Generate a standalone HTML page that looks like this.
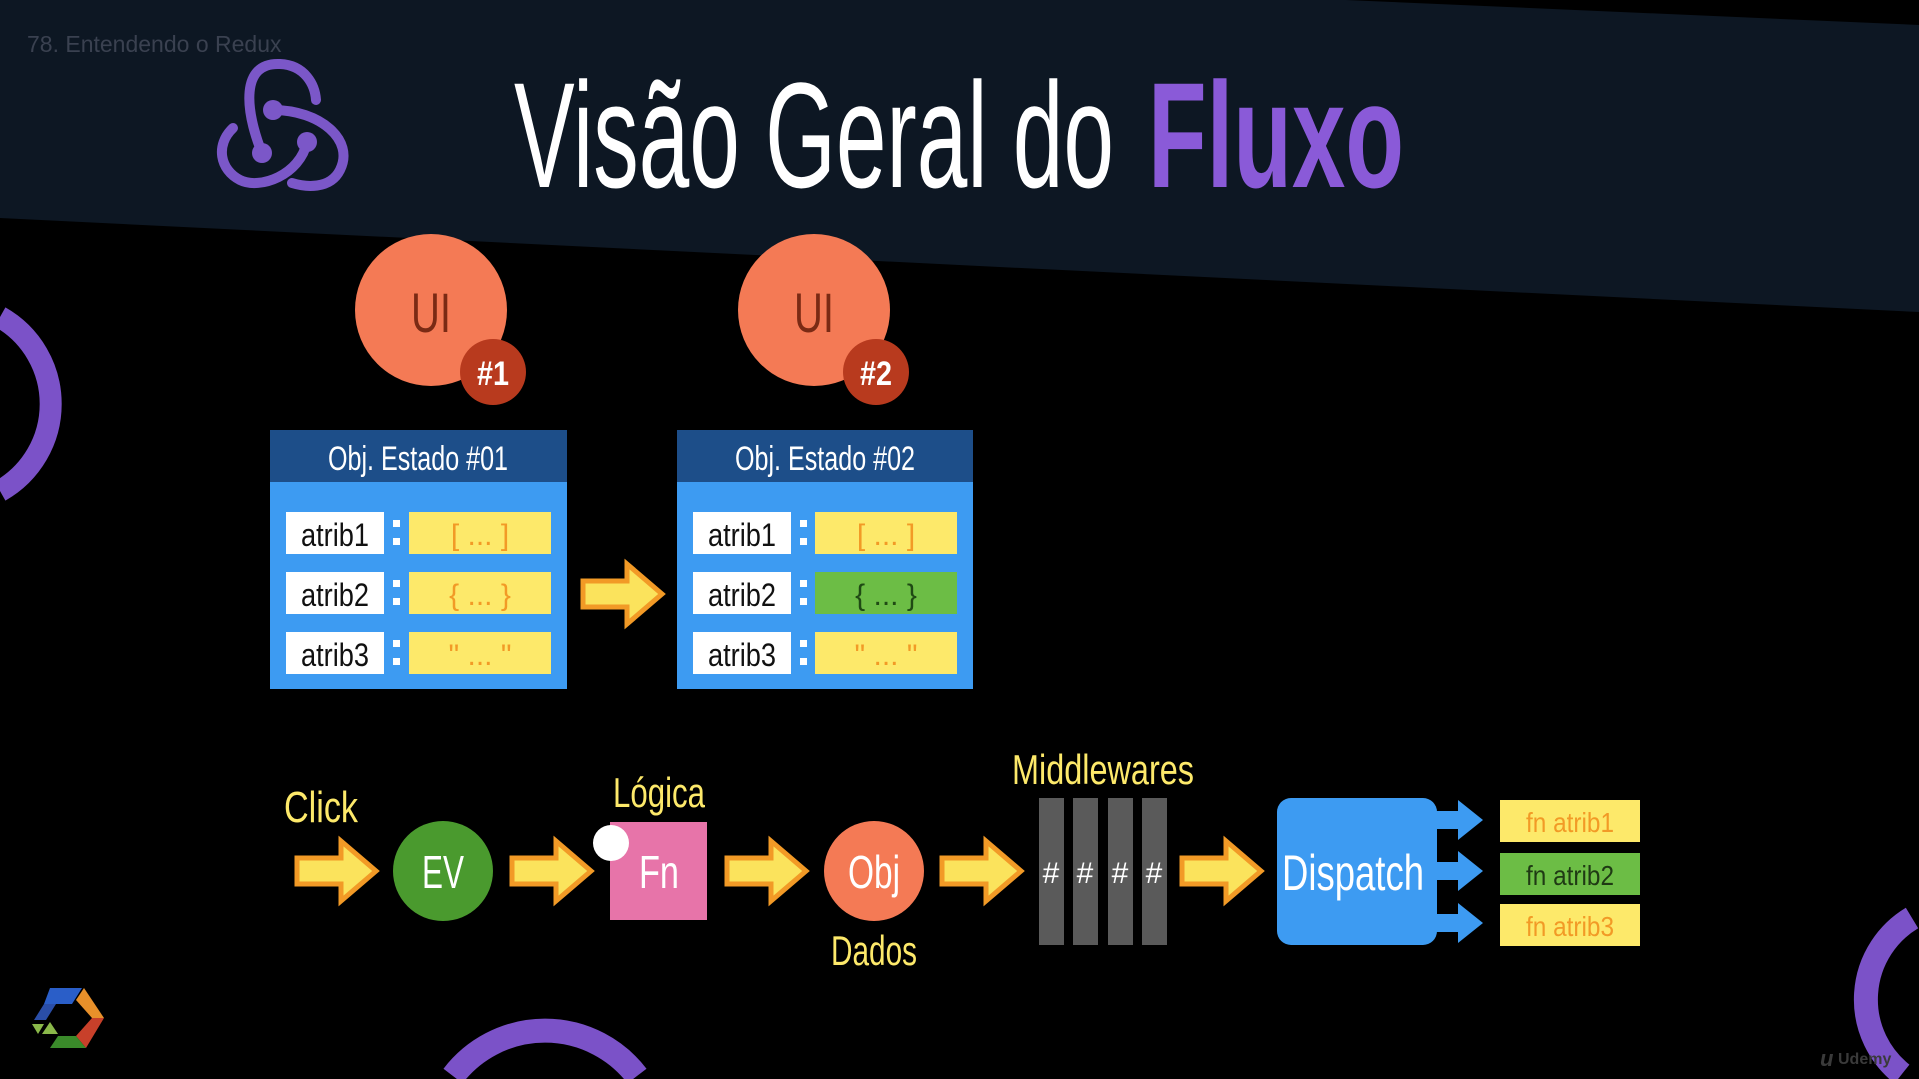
<!DOCTYPE html>
<html><head><meta charset="utf-8"><style>
html,body{margin:0;padding:0;background:#000;width:1919px;height:1079px;overflow:hidden;}
svg{display:block;overflow:hidden;}
text{font-family:"Liberation Sans",sans-serif;}
</style></head><body>
<svg width="1919" height="1079" viewBox="0 0 1919 1079" xmlns="http://www.w3.org/2000/svg">
<defs>
<g id="arr">
<polygon points="0,-13 44,-13 44,-30 79,0 44,30 44,13 0,13" fill="#fbe35c" stroke="#f29a26" stroke-width="5" stroke-linejoin="miter"/>
</g>
<g id="sarr">
<polygon points="0,-9 26,-9 26,-20 51,0 26,20 26,9 0,9" fill="#3d9bf2"/>
</g>
</defs>
<rect width="1919" height="1079" fill="#000"/>
<polygon points="0,0 1346,0 1919,25 1919,312 0,218" fill="#0d1723"/>
<path d="M0,317 A100,100 0 0 1 0,491" fill="none" stroke="#7b52c8" stroke-width="22"/>
<path d="M453,1076 A116,116 0 0 1 637,1076" fill="none" stroke="#7b52c8" stroke-width="24"/>
<path d="M1912,918 A95,95 0 0 0 1902,1074" fill="none" stroke="#7b52c8" stroke-width="24"/>
<text x="27" y="52" font-size="23" fill="#3a4150">78. Entendendo o Redux</text>
<g fill="none" stroke="#7b57c8" stroke-width="10" stroke-linecap="round">
<path d="M262,153 C245,110 240,62 280,64 C305,65 315,85 316,100"/>
<path d="M273,110 C320,110 355,140 340,170 C330,190 305,187 292,183"/>
<path d="M307,142 C300,175 260,190 240,180 C220,170 215,145 233,128"/>
</g>
<g fill="#7b57c8"><circle cx="273" cy="110" r="10"/><circle cx="262" cy="153" r="10"/><circle cx="307" cy="142" r="10"/></g>
<text x="514" y="187" font-size="150" fill="#ffffff" textLength="600" lengthAdjust="spacingAndGlyphs">Visão Geral do</text>
<text x="1148" y="187" font-size="150" font-weight="bold" fill="#8a5ad8" textLength="256" lengthAdjust="spacingAndGlyphs">Fluxo</text>
<circle cx="431" cy="310" r="76" fill="#f47a55"/>
<text x="431" y="332" font-size="56" fill="#7a2a14" text-anchor="middle" textLength="40" lengthAdjust="spacingAndGlyphs">UI</text>
<circle cx="493" cy="372" r="33" fill="#b83a1e"/>
<text x="493" y="385" font-size="34" font-weight="bold" fill="#fff" text-anchor="middle" textLength="32" lengthAdjust="spacingAndGlyphs">#1</text>
<circle cx="814" cy="310" r="76" fill="#f47a55"/>
<text x="814" y="332" font-size="56" fill="#7a2a14" text-anchor="middle" textLength="40" lengthAdjust="spacingAndGlyphs">UI</text>
<circle cx="876" cy="372" r="33" fill="#b83a1e"/>
<text x="876" y="385" font-size="34" font-weight="bold" fill="#fff" text-anchor="middle" textLength="32" lengthAdjust="spacingAndGlyphs">#2</text>
<g>
<rect x="270" y="430" width="297" height="259" fill="#3d9bf2"/>
<rect x="270" y="430" width="297" height="52" fill="#1d4e89"/>
<text x="418" y="470" font-size="34" fill="#fff" text-anchor="middle" textLength="180" lengthAdjust="spacingAndGlyphs">Obj. Estado #01</text>
<rect x="286" y="512" width="98" height="42" fill="#fff"/><rect x="286" y="572" width="98" height="42" fill="#fff"/><rect x="286" y="632" width="98" height="42" fill="#fff"/>
<text x="335" y="546" font-size="32" fill="#111" text-anchor="middle" textLength="68" lengthAdjust="spacingAndGlyphs">atrib1</text>
<text x="335" y="606" font-size="32" fill="#111" text-anchor="middle" textLength="68" lengthAdjust="spacingAndGlyphs">atrib2</text>
<text x="335" y="666" font-size="32" fill="#111" text-anchor="middle" textLength="68" lengthAdjust="spacingAndGlyphs">atrib3</text>
<g fill="#fff"><rect x="393" y="520" width="7" height="7"/><rect x="393" y="538" width="7" height="7"/><rect x="393" y="580" width="7" height="7"/><rect x="393" y="598" width="7" height="7"/><rect x="393" y="640" width="7" height="7"/><rect x="393" y="658" width="7" height="7"/></g>
<rect x="409" y="512" width="142" height="42" fill="#fde96a"/><rect x="409" y="572" width="142" height="42" fill="#fde96a"/><rect x="409" y="632" width="142" height="42" fill="#fde96a"/>
<text x="480" y="545" font-size="30" fill="#f29a26" text-anchor="middle">[ ... ]</text>
<text x="480" y="605" font-size="30" fill="#f29a26" text-anchor="middle">{ ... }</text>
<text x="480" y="665" font-size="30" fill="#f29a26" text-anchor="middle">" ... "</text>
</g>
<g>
<rect x="677" y="430" width="296" height="259" fill="#3d9bf2"/>
<rect x="677" y="430" width="296" height="52" fill="#1d4e89"/>
<text x="825" y="470" font-size="34" fill="#fff" text-anchor="middle" textLength="180" lengthAdjust="spacingAndGlyphs">Obj. Estado #02</text>
<rect x="693" y="512" width="98" height="42" fill="#fff"/><rect x="693" y="572" width="98" height="42" fill="#fff"/><rect x="693" y="632" width="98" height="42" fill="#fff"/>
<text x="742" y="546" font-size="32" fill="#111" text-anchor="middle" textLength="68" lengthAdjust="spacingAndGlyphs">atrib1</text>
<text x="742" y="606" font-size="32" fill="#111" text-anchor="middle" textLength="68" lengthAdjust="spacingAndGlyphs">atrib2</text>
<text x="742" y="666" font-size="32" fill="#111" text-anchor="middle" textLength="68" lengthAdjust="spacingAndGlyphs">atrib3</text>
<g fill="#fff"><rect x="800" y="520" width="7" height="7"/><rect x="800" y="538" width="7" height="7"/><rect x="800" y="580" width="7" height="7"/><rect x="800" y="598" width="7" height="7"/><rect x="800" y="640" width="7" height="7"/><rect x="800" y="658" width="7" height="7"/></g>
<rect x="815" y="512" width="142" height="42" fill="#fde96a"/><rect x="815" y="572" width="142" height="42" fill="#6cbd45"/><rect x="815" y="632" width="142" height="42" fill="#fde96a"/>
<text x="886" y="545" font-size="30" fill="#f29a26" text-anchor="middle">[ ... ]</text>
<text x="886" y="605" font-size="30" fill="#1f4a14" text-anchor="middle">{ ... }</text>
<text x="886" y="665" font-size="30" fill="#f29a26" text-anchor="middle">" ... "</text>
</g>
<use href="#arr" transform="translate(583,594)"/>
<text x="284" y="822" font-size="44" fill="#fde96a" textLength="74" lengthAdjust="spacingAndGlyphs">Click</text>
<use href="#arr" transform="translate(297,871)"/>
<circle cx="443" cy="871" r="50" fill="#4a9a2e"/>
<text x="443" y="888" font-size="46" fill="#fff" text-anchor="middle" textLength="42" lengthAdjust="spacingAndGlyphs">EV</text>
<use href="#arr" transform="translate(512,871)"/>
<text x="659" y="807" font-size="42" fill="#fde96a" text-anchor="middle" textLength="92" lengthAdjust="spacingAndGlyphs">Lógica</text>
<rect x="610" y="822" width="97" height="98" fill="#e774a9"/>
<circle cx="611" cy="843" r="18" fill="#fff"/>
<text x="659" y="888" font-size="46" fill="#fff" text-anchor="middle" textLength="40" lengthAdjust="spacingAndGlyphs">Fn</text>
<use href="#arr" transform="translate(727,871)"/>
<circle cx="874" cy="871" r="50" fill="#f47a55"/>
<text x="874" y="888" font-size="46" fill="#fff" text-anchor="middle" textLength="52" lengthAdjust="spacingAndGlyphs">Obj</text>
<text x="874" y="965" font-size="42" fill="#fde96a" text-anchor="middle" textLength="86" lengthAdjust="spacingAndGlyphs">Dados</text>
<use href="#arr" transform="translate(942,871)"/>
<text x="1103" y="784" font-size="42" fill="#fde96a" text-anchor="middle" textLength="182" lengthAdjust="spacingAndGlyphs">Middlewares</text>
<g fill="#5a5a5a"><rect x="1039" y="798" width="25" height="147"/><rect x="1073" y="798" width="25" height="147"/><rect x="1108" y="798" width="25" height="147"/><rect x="1142" y="798" width="25" height="147"/></g>
<g font-size="30" fill="#fff" text-anchor="middle"><text x="1051" y="883">#</text><text x="1085" y="883">#</text><text x="1120" y="883">#</text><text x="1154" y="883">#</text></g>
<use href="#arr" transform="translate(1182,871)"/>
<rect x="1277" y="798" width="160" height="147" rx="14" fill="#3d9bf2"/>
<text x="1353" y="890" font-size="50" fill="#fff" text-anchor="middle" textLength="142" lengthAdjust="spacingAndGlyphs">Dispatch</text>
<use href="#sarr" transform="translate(1432,820)"/>
<use href="#sarr" transform="translate(1432,871)"/>
<use href="#sarr" transform="translate(1432,923)"/>
<rect x="1500" y="800" width="140" height="42" fill="#fde96a"/>
<rect x="1500" y="853" width="140" height="42" fill="#6cbd45"/>
<rect x="1500" y="904" width="140" height="42" fill="#fde96a"/>
<text x="1570" y="832" font-size="28" fill="#f29a26" text-anchor="middle" textLength="88" lengthAdjust="spacingAndGlyphs">fn atrib1</text>
<text x="1570" y="885" font-size="28" fill="#1f3a14" text-anchor="middle" textLength="88" lengthAdjust="spacingAndGlyphs">fn atrib2</text>
<text x="1570" y="936" font-size="28" fill="#f29a26" text-anchor="middle" textLength="88" lengthAdjust="spacingAndGlyphs">fn atrib3</text>
<polygon points="50,988 82,988 72,1004 44,1004" fill="#2a5ec8"/>
<polygon points="84,988 104,1018 92,1018 76,1000" fill="#e8902a"/>
<polygon points="104,1018 86,1048 76,1036 92,1018" fill="#c8402a"/>
<polygon points="86,1048 50,1048 58,1036 76,1036" fill="#3a8a2a"/>
<polygon points="44,1004 56,1004 46,1020 34,1020" fill="#2a4ea8"/>
<polygon points="32,1024 44,1024 38,1034" fill="#8ab84a"/>
<polygon points="50,1022 58,1034 42,1034" fill="#8ab84a"/>
<text x="1838" y="1064" font-size="16" font-weight="bold" fill="#3a3a3a">Udemy</text>
<text x="1820" y="1066" font-size="22" font-weight="bold" font-style="italic" fill="#3a3a3a">u</text>
</svg>
</body></html>
